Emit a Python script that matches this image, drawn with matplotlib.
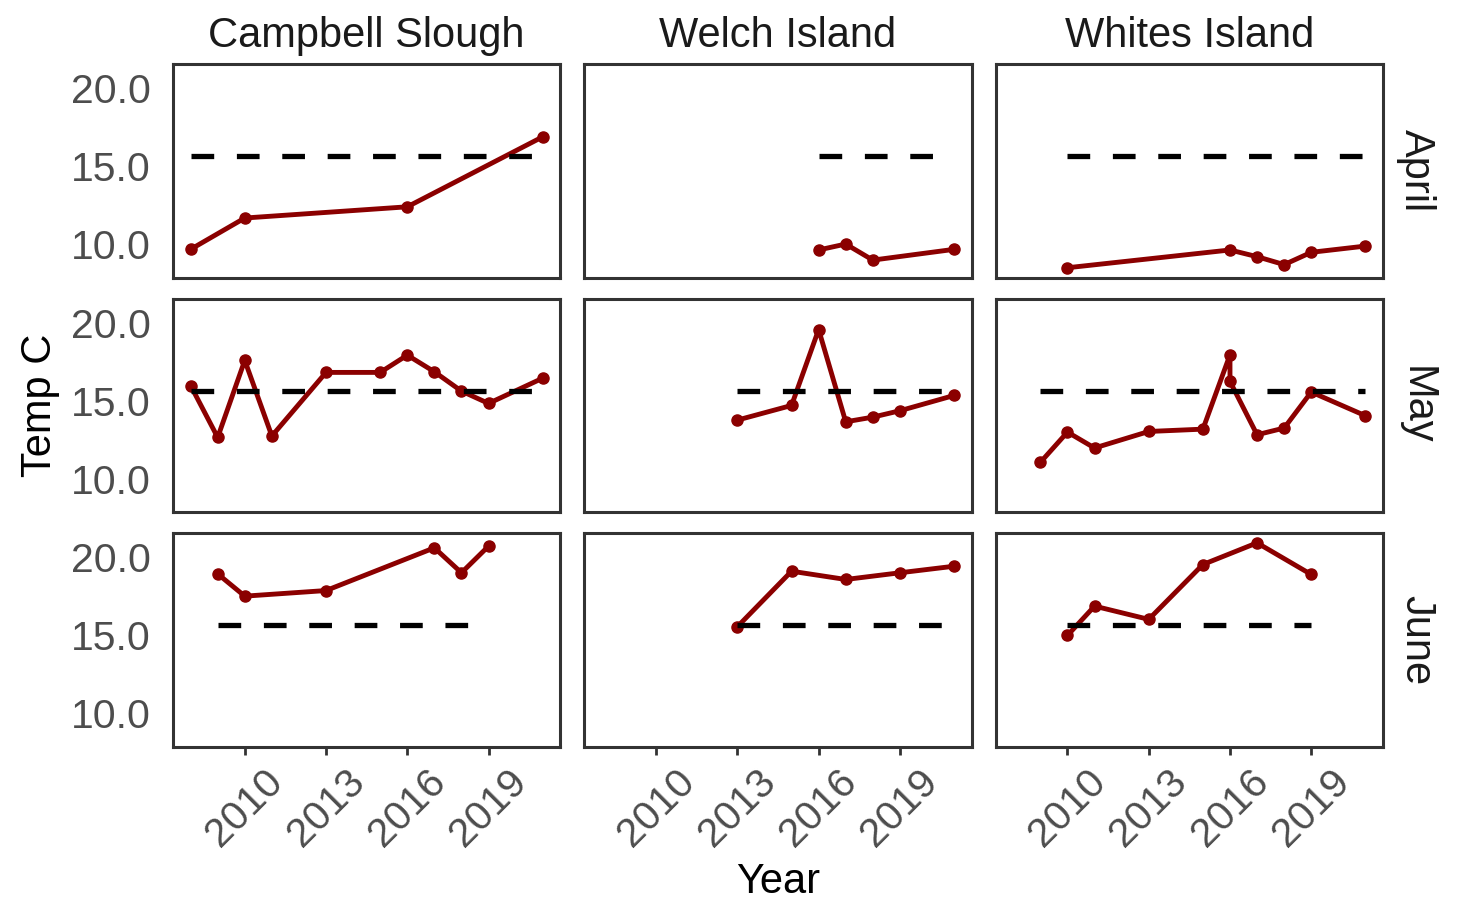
import matplotlib
matplotlib.use("Agg")
import matplotlib.pyplot as plt

plt.rcParams['font.family'] = ['Liberation Sans', 'DejaVu Sans']

sites = ['Campbell Slough', 'Welch Island', 'Whites Island']
months = ['April', 'May', 'June']

# values, one pair of lists per panel
years_cs_apr = [2008, 2010, 2016, 2021]
temp_cs_apr = [9.66, 11.67, 12.39, 16.88]
years_wi_apr = [2016, 2017, 2018, 2021]
temp_wi_apr = [9.62, 10.0, 8.97, 9.66]
years_wh_apr = [2010, 2016, 2017, 2018, 2019, 2021]
temp_wh_apr = [8.48, 9.62, 9.19, 8.68, 9.47, 9.87]

years_cs_may = [2008, 2009, 2010, 2011, 2013, 2015, 2016, 2017, 2018, 2019, 2021]
temp_cs_may = [15.98, 12.65, 17.59, 12.74, 16.82, 16.82, 17.93, 16.86, 15.62, 14.83, 16.45]
years_wi_may = [2013, 2015, 2016, 2017, 2018, 2019, 2021]
temp_wi_may = [13.76, 14.70, 19.57, 13.65, 13.95, 14.36, 15.34]
years_wh_may = [2009, 2010, 2011, 2013, 2015, 2016, 2016, 2017, 2018, 2019, 2021]
temp_wh_may = [11.05, 12.99, 11.97, 13.03, 13.18, 17.95, 16.24, 12.82, 13.25, 15.56, 14.04]

years_cs_jun = [2009, 2010, 2013, 2017, 2018, 2019]
temp_cs_jun = [18.95, 17.52, 17.88, 20.62, 19.02, 20.73]
years_wi_jun = [2013, 2015, 2017, 2019, 2021]
temp_wi_jun = [15.56, 19.12, 18.59, 19.02, 19.44]
years_wh_jun = [2010, 2011, 2013, 2015, 2017, 2019]
temp_wh_jun = [15.0, 16.88, 16.03, 19.55, 20.94, 18.91]

threshold = 15.65

panels = [
    [(years_cs_apr, temp_cs_apr), (years_wi_apr, temp_wi_apr), (years_wh_apr, temp_wh_apr)],
    [(years_cs_may, temp_cs_may), (years_wi_may, temp_wi_may), (years_wh_may, temp_wh_may)],
    [(years_cs_jun, temp_cs_jun), (years_wi_jun, temp_wi_jun), (years_wh_jun, temp_wh_jun)],
]

xticks = [2010, 2013, 2016, 2019]
yticks = [10, 15, 20]
xlim = (2007.35, 2021.65)
ylim = (7.85, 21.55)

fig, axes = plt.subplots(3, 3, figsize=(14.66, 9.02), dpi=100, sharex=True, sharey=True)
plt.subplots_adjust(left=0.118, right=0.9434, top=0.929, bottom=0.172, wspace=0.062, hspace=0.099)

for r in range(3):
    for c in range(3):
        ax = axes[r, c]
        yrs, temps = panels[r][c]
        ax.plot(yrs, temps, color='#8B0000', lw=3.5, marker='o', markersize=8, zorder=2)
        ax.plot([min(yrs), max(yrs)], [threshold, threshold], color='black', lw=3.8,
                linestyle=(0, (4.3, 4.3)), dash_capstyle='butt', zorder=3)
        ax.set_xlim(xlim)
        ax.set_ylim(ylim)
        ax.set_xticks(xticks)
        ax.set_yticks(yticks)
        for s in ax.spines.values():
            s.set_color('#333333')
            s.set_linewidth(2.2)
        if r == 2:
            ax.tick_params(axis='x', length=6, width=2, color='#333333', labelsize=29.5,
                           labelcolor='#4d4d4d', pad=5)
            for lab in ax.get_xticklabels():
                lab.set_rotation(45)
                lab.set_ha('center')
                lab.set_va('top')
        else:
            ax.tick_params(axis='x', length=0)
        ax.tick_params(axis='y', length=0, labelsize=29.5, labelcolor='#4d4d4d', pad=16)
        if c == 0:
            ax.set_yticklabels(['%.1f' % v for v in yticks])
        if r == 0:
            ax.set_title(sites[c], fontsize=30, color='#1a1a1a', pad=12)
        if c == 2:
            ax.annotate(months[r], xy=(1, 0.5), xycoords='axes fraction', xytext=(24, 0),
                        textcoords='offset points', rotation=-90, ha='center', va='center',
                        fontsize=30, color='#1a1a1a')

fig.text(0.5307, 0.022, 'Year', ha='center', va='center', fontsize=30)
fig.text(0.027, 0.551, 'Temp C', ha='center', va='center', rotation=90, fontsize=30)

plt.savefig('out.png', dpi=100)
